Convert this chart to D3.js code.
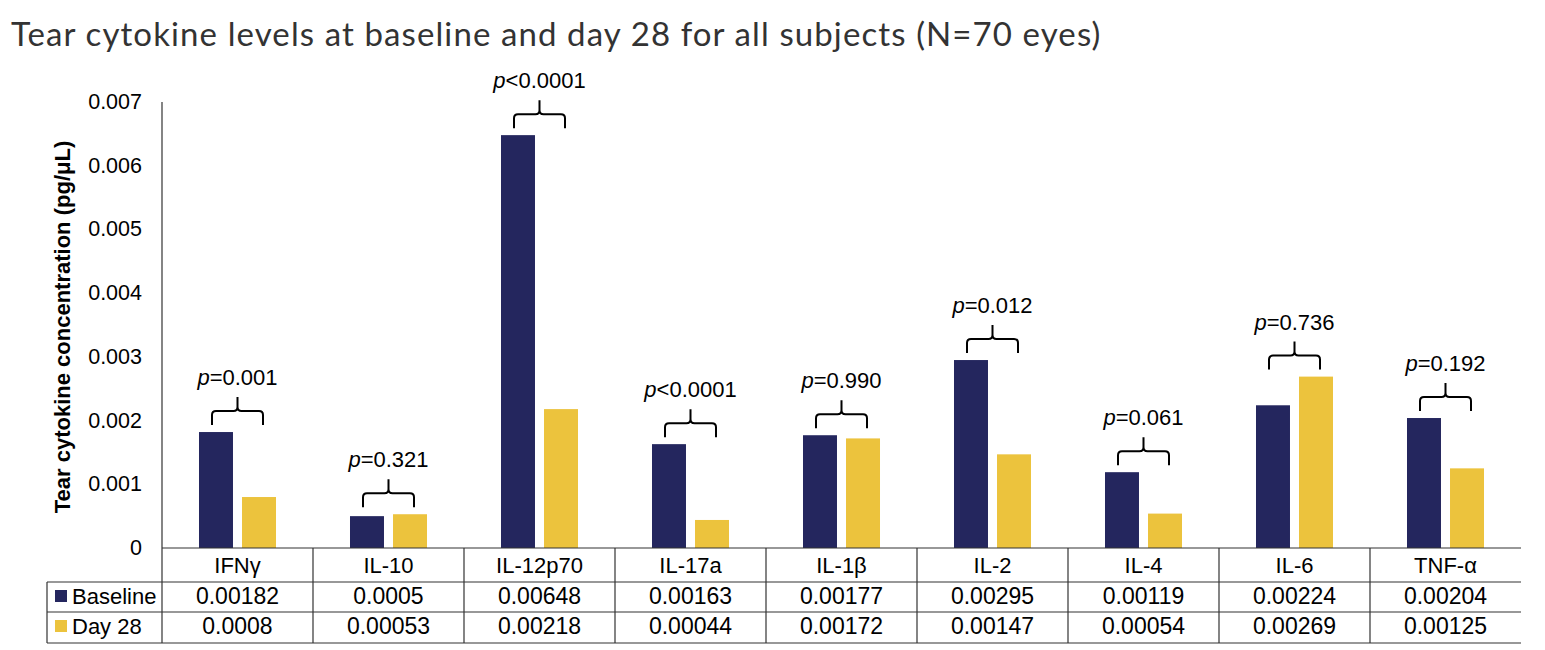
<!DOCTYPE html>
<html>
<head>
<meta charset="utf-8">
<script src="https://cdn.jsdelivr.net/npm/d3@7"></script>
<style>
  body { margin: 0; background: #fff; }
  svg text { font-family: "Liberation Sans", Arial, sans-serif; }
</style>
</head>
<body>
<div class="chart"></div>
<script>
// data
const categories = ["IFNγ", "IL-10", "IL-12p70", "IL-17a", "IL-1β", "IL-2", "IL-4", "IL-6", "TNF-α"];
const baseline = [0.00182, 0.0005, 0.00648, 0.00163, 0.00177, 0.00295, 0.00119, 0.00224, 0.00204];
const day28 = [0.0008, 0.00053, 0.00218, 0.00044, 0.00172, 0.00147, 0.00054, 0.00269, 0.00125];
const baselineLabels = ["0.00182", "0.0005", "0.00648", "0.00163", "0.00177", "0.00295", "0.00119", "0.00224", "0.00204"];
const day28Labels = ["0.0008", "0.00053", "0.00218", "0.00044", "0.00172", "0.00147", "0.00054", "0.00269", "0.00125"];
const pValues = ["=0.001", "=0.321", "<0.0001", "<0.0001", "=0.990", "=0.012", "=0.061", "=0.736", "=0.192"];
const seriesNames = ["Baseline", "Day 28"];
const yTicks = [0, 0.001, 0.002, 0.003, 0.004, 0.005, 0.006, 0.007];

const navy = "#24265e", gold = "#ecc33d", lineCol = "#333";

let width = 1545, height = 650;
let svg = d3.select(".chart").append("svg")
  .attr("width", width).attr("height", height);

// title
svg.append("text")
  .attr("x", 11).attr("y", 46)
  .style("font-family", "Lato, 'Open Sans', sans-serif")
  .style("font-weight", 400)
  .style("letter-spacing", "1.1px")
  .attr("font-size", 33)
  .attr("fill", "#333")
  .text("Tear cytokine levels at baseline and day 28 for all subjects (N=70 eyes)");

let plotLeft = 162, plotRight = 1521, plotTop = 102, zeroY = 548;
let x = d3.scaleBand().domain(categories).range([plotLeft, plotRight]);
let xs = d3.scaleBand().domain(seriesNames).range([0, x.bandwidth()])
  .paddingInner(0.21).paddingOuter(0.86);
let y = d3.scaleLinear().domain([0, 0.007]).range([zeroY, plotTop]);

// y tick labels
svg.append("g").selectAll("text").data(yTicks).enter().append("text")
  .attr("x", 142).attr("y", d => y(d) + 7)
  .attr("text-anchor", "end").attr("font-size", 21.5).attr("fill", "#000")
  .text(d => d === 0 ? "0" : d3.format(".3f")(d));

// y axis title
svg.append("text")
  .attr("transform", "translate(70," + (y(0.0035) + 2) + ") rotate(-90)")
  .attr("text-anchor", "middle").attr("font-size", 22).attr("font-weight", "bold")
  .text("Tear cytokine concentration (pg/μL)");

// bars
let rows = categories.map((c, i) => ({ cat: c, vals: [baseline[i], day28[i]], p: pValues[i] }));
let groups = svg.append("g").selectAll("g").data(rows).enter().append("g")
  .attr("transform", d => "translate(" + x(d.cat) + ",0)");
groups.selectAll("rect").data(d => d.vals.map((v, j) => ({ s: seriesNames[j], v }))).enter().append("rect")
  .attr("x", d => xs(d.s)).attr("width", xs.bandwidth())
  .attr("y", d => y(d.v)).attr("height", d => zeroY - y(d.v))
  .attr("fill", d => d.s === "Baseline" ? navy : gold);

// brackets + p values
let bw = 51;
function bracket(cx, yb) {
  let l = cx - bw / 2, r = cx + bw / 2, h = yb - 14;
  return "M" + l + "," + yb + " V" + (h + 4) + " Q" + l + "," + h + " " + (l + 4) + "," + h +
    " H" + (cx - 4) + " Q" + cx + "," + h + " " + cx + "," + (h - 4) + " V" + (yb - 28) +
    " M" + cx + "," + (h - 4) + " Q" + cx + "," + h + " " + (cx + 4) + "," + h +
    " H" + (r - 4) + " Q" + r + "," + h + " " + r + "," + (h + 4) + " V" + yb;
}
groups.append("path")
  .attr("d", d => bracket(x.bandwidth() / 2, y(d3.max(d.vals)) - 7))
  .attr("fill", "none").attr("stroke", "#000").attr("stroke-width", 2);
let pt = groups.append("text")
  .attr("x", x.bandwidth() / 2).attr("y", d => y(d3.max(d.vals)) - 47)
  .attr("text-anchor", "middle").attr("font-size", 22).attr("fill", "#000");
pt.append("tspan").attr("font-style", "italic").text("p");
pt.append("tspan").text(d => d.p);

// table
let t = svg.append("g").attr("stroke", lineCol).attr("stroke-width", 1.2);
let r0 = 548, r1 = 582, r2 = 612, r3 = 643, tableLeft = 47;
t.append("line").attr("x1", plotLeft).attr("x2", plotRight).attr("y1", r0).attr("y2", r0);
[r1, r2, r3].forEach(yy => t.append("line").attr("x1", tableLeft).attr("x2", plotRight).attr("y1", yy).attr("y2", yy));
t.append("line").attr("x1", plotLeft).attr("x2", plotLeft).attr("y1", plotTop).attr("y2", r3);
t.append("line").attr("x1", tableLeft).attr("x2", tableLeft).attr("y1", r1).attr("y2", r3);
categories.slice(1).forEach(c => t.append("line").attr("x1", x(c)).attr("x2", x(c)).attr("y1", r0).attr("y2", r3));

let cx = c => x(c) + x.bandwidth() / 2;
svg.append("g").selectAll("text").data(categories).enter().append("text")
  .attr("x", cx).attr("y", 573).attr("text-anchor", "middle").attr("font-size", 22).text(d => d);
svg.append("g").selectAll("text").data(baselineLabels).enter().append("text")
  .attr("x", (d, i) => cx(categories[i])).attr("y", 604).attr("text-anchor", "middle").attr("font-size", 23).text(d => d);
svg.append("g").selectAll("text").data(day28Labels).enter().append("text")
  .attr("x", (d, i) => cx(categories[i])).attr("y", 634).attr("text-anchor", "middle").attr("font-size", 23).text(d => d);

// legend keys in table
[[navy, "Baseline", 604], [gold, "Day 28", 634]].forEach(k => {
  svg.append("rect").attr("x", 55).attr("y", k[2] - 14).attr("width", 12).attr("height", 12).attr("fill", k[0]);
  svg.append("text").attr("x", 72).attr("y", k[2]).attr("font-size", 22).text(k[1]);
});
</script>
</body>
</html>
